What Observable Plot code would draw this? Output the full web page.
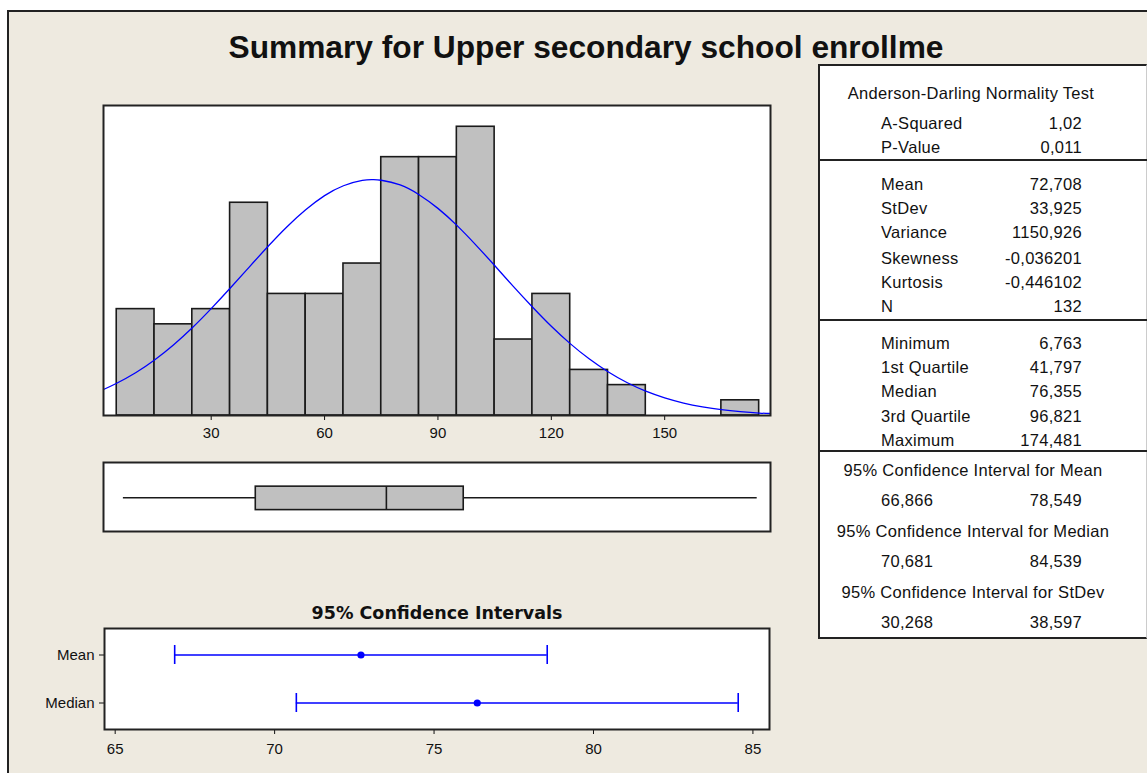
<!DOCTYPE html>
<html>
<head>
<meta charset="utf-8">
<script src="https://cdn.jsdelivr.net/npm/d3@7"></script>
<script src="https://cdn.jsdelivr.net/npm/@observablehq/plot@0.6"></script>
<style>
  html, body { margin: 0; padding: 0; }
  body { width: 1147px; height: 773px; overflow: hidden; position: relative; background: #ffffff;
         font-family: "Liberation Sans", Arial, sans-serif; color: #111; }
  #bg { position: absolute; left: 7px; top: 10px; width: 1200px; height: 800px; background: #EEEAE0;
        border-left: 2px solid #222; border-top: 2px solid #222; }
  .abs { position: absolute; white-space: nowrap; }
  #panel { position: absolute; left: 818px; top: 64px; width: 326px; height: 571px; background: #fff;
           border-left: 2px solid #222; border-top: 2px solid #222; border-bottom: 2px solid #222; border-right: 1px solid #ccc; }
  .sep { position: absolute; left: 818px; width: 330px; height: 0; border-top: 2px solid #222; }
  .pt { font-family: "Liberation Sans", Arial, sans-serif; font-size: 16.5px; letter-spacing: 0.3px; line-height: 20px; height: 20px; }
  #title { font-family: "Liberation Sans", Arial, sans-serif; font-weight: bold; font-size: 31.7px; line-height: 36px; }
  #cititle { font-family: "DejaVu Sans", sans-serif; font-weight: bold; font-size: 17.5px; line-height: 22px; }
</style>
</head>
<body>
<div id="bg"></div>
<div id="root"></div>
<script>
// ---------------- data ----------------
const chartTitle = "Summary for Upper secondary school enrollme";
const ciTitle = "95% Confidence Intervals";

// histogram bins (value ranges) and counts
const binLo    = [5, 15, 25, 35, 45, 55, 65, 75, 85, 95, 105, 115, 125, 135, 145, 155, 165];
const binHi    = [15, 25, 35, 45, 55, 65, 75, 85, 95, 105, 115, 125, 135, 145, 155, 165, 175];
const binCount = [7, 6, 7, 14, 8, 8, 10, 17, 17, 19, 5, 8, 3, 2, 0, 0, 1];
const histTicks = [30, 60, 90, 120, 150];

// fitted normal curve
const fitX = [1.5, 5, 10, 15, 20, 25, 30, 35, 40, 45, 50, 55, 60, 65, 70, 72.7, 75, 80, 85, 90, 95, 100,
              105, 110, 115, 120, 125, 130, 135, 140, 145, 150, 155, 160, 165, 170, 175, 178];
const fitY = [1.71, 2.12, 2.81, 3.65, 4.64, 5.77, 7.03, 8.37, 9.75, 11.12, 12.41, 13.54, 14.47, 15.12, 15.47, 15.52,
              15.48, 15.17, 14.53, 13.63, 12.51, 11.23, 9.87, 8.48, 7.14, 5.87, 4.73, 3.73, 2.88, 2.17, 1.60,
              1.16, 0.82, 0.57, 0.38, 0.25, 0.16, 0.13];

// boxplot summary
const boxMin = 6.763, boxQ1 = 41.797, boxMedian = 76.355, boxQ3 = 96.821, boxMax = 174.481;

// confidence intervals
const ciLabels = ["Mean", "Median"];
const ciLow    = [66.866, 70.681];
const ciMid    = [72.708, 76.355];
const ciHigh   = [78.549, 84.539];
const ciTicks  = [65, 70, 75, 80, 85];

// stats panel
const adHeader  = "Anderson-Darling Normality Test";
const adLabels  = ["A-Squared", "P-Value"];
const adValues  = ["1,02", "0,011"];
const momLabels = ["Mean", "StDev", "Variance", "Skewness", "Kurtosis", "N"];
const momValues = ["72,708", "33,925", "1150,926", "-0,036201", "-0,446102", "132"];
const qLabels   = ["Minimum", "1st Quartile", "Median", "3rd Quartile", "Maximum"];
const qValues   = ["6,763", "41,797", "76,355", "96,821", "174,481"];
const ciHeaders = ["95% Confidence Interval for Mean", "95% Confidence Interval for Median", "95% Confidence Interval for StDev"];
const ciPanelLo = ["66,866", "70,681", "30,268"];
const ciPanelHi = ["78,549", "84,539", "38,597"];

// ---------------- layout helpers ----------------
function place(node, left, top, width) {
  const d = document.createElement("div");
  d.className = "abs";
  d.style.left = left + "px"; d.style.top = top + "px";
  if (width) d.style.width = width + "px";
  d.appendChild(node);
  document.body.appendChild(d);
  return d;
}
function text(str, x, y, align, cls, lh) {
  const d = document.createElement("div");
  d.className = "abs " + cls;
  d.textContent = str;
  const w = 1000;
  d.style.top = (y - lh / 2) + "px";
  d.style.width = w + "px";
  if (align === "left") { d.style.left = x + "px"; d.style.textAlign = "left"; }
  else if (align === "right") { d.style.left = (x - w) + "px"; d.style.textAlign = "right"; }
  else { d.style.left = (x - w / 2) + "px"; d.style.textAlign = "center"; }
  document.body.appendChild(d);
  return d;
}

// title
text(chartTitle, 586, 47, "center", "", 36).id = "title";

// ---------------- histogram ----------------
const bins = binLo.map((lo, i) => ({lo, hi: binHi[i], count: binCount[i]})).filter(d => d.count > 0);
const fit = fitX.map((x, i) => ({x, y: fitY[i]}));
const xDomain = [1.5, 178];
const axisStyle = {background: "transparent", fontFamily: "'Liberation Sans', Arial, sans-serif", fontSize: "15px", color: "#111", overflow: "visible"};

const hist = Plot.plot({
  width: 671, height: 344,
  marginLeft: 2, marginRight: 2, marginTop: 2, marginBottom: 32,
  style: axisStyle,
  x: {domain: xDomain, ticks: histTicks, tickSize: 5, tickPadding: 7, label: null, tickFormat: d => String(d)},
  y: {domain: [0, 20.4], axis: null},
  marks: [
    Plot.frame({fill: "white", stroke: "none"}),
    Plot.rectY(bins, {x1: "lo", x2: "hi", y: "count", fill: "#C0C0C0", stroke: "#1a1a1a", strokeWidth: 1.6}),
    Plot.line(fit, {x: "x", y: "y", stroke: "#0000FF", strokeWidth: 1.3, curve: "natural"}),
    Plot.frame({stroke: "#222", strokeWidth: 2})
  ]
});
place(hist, 101, 103, 671);

// ---------------- boxplot ----------------
const whiskers = [{a: boxMin, b: boxQ1}, {a: boxQ3, b: boxMax}];
const boxPlot = Plot.plot({
  width: 671, height: 73,
  marginLeft: 2, marginRight: 2, marginTop: 2, marginBottom: 2,
  style: axisStyle,
  x: {domain: xDomain, axis: null},
  y: {domain: [0, 1], axis: null},
  marks: [
    Plot.frame({fill: "white", stroke: "none"}),
    Plot.ruleY(whiskers, {x1: "a", x2: "b", y: 0.49, stroke: "#1a1a1a", strokeWidth: 1.6}),
    Plot.rect([{a: boxQ1, b: boxQ3}], {x1: "a", x2: "b", y1: 0.31, y2: 0.65, fill: "#C0C0C0", stroke: "#1a1a1a", strokeWidth: 1.6}),
    Plot.ruleX([boxMedian], {y1: 0.31, y2: 0.65, stroke: "#1a1a1a", strokeWidth: 1.6}),
    Plot.frame({stroke: "#222", strokeWidth: 2})
  ]
});
place(boxPlot, 101, 460, 671);

// ---------------- confidence intervals ----------------
text(ciTitle, 437, 613, "center", "", 22).id = "cititle";
const ci = ciLabels.map((label, i) => ({label, lo: ciLow[i], mid: ciMid[i], hi: ciHigh[i]}));
const ciPlot = Plot.plot({
  width: 737, height: 133,
  marginLeft: 70, marginRight: 2, marginTop: 2, marginBottom: 30,
  style: axisStyle,
  x: {domain: [64.665, 85.52], ticks: ciTicks, tickSize: 5, tickPadding: 9, label: null, tickFormat: d => String(d)},
  y: {type: "band", domain: ciLabels, paddingInner: 0.6, paddingOuter: 0.34, tickSize: 5, tickPadding: 5, label: null},
  marks: [
    Plot.frame({fill: "white", stroke: "none"}),
    Plot.ruleY(ci, {x1: "lo", x2: "hi", y: "label", stroke: "#0000FF", strokeWidth: 1.6}),
    Plot.tickX(ci, {x: "lo", y: "label", stroke: "#0000FF", strokeWidth: 1.6}),
    Plot.tickX(ci, {x: "hi", y: "label", stroke: "#0000FF", strokeWidth: 1.6}),
    Plot.dot(ci, {x: "mid", y: "label", r: 3.6, fill: "#0000FF", stroke: "none"}),
    Plot.frame({stroke: "#222", strokeWidth: 2})
  ]
});
place(ciPlot, 34, 626, 737);

// ---------------- stats panel ----------------
const panel = document.createElement("div");
panel.id = "panel";
document.body.appendChild(panel);
[160, 320, 451].forEach(y => {
  const s = document.createElement("div");
  s.className = "sep"; s.style.top = (y - 1) + "px";
  document.body.appendChild(s);
});
const LX = 881, RX = 1082;
text(adHeader, 971, 93, "center", "pt", 20);
const adY = [123, 147];
adLabels.forEach((l, i) => { text(l, LX, adY[i], "left", "pt", 20); text(adValues[i], RX, adY[i], "right", "pt", 20); });
const momY = [184, 208, 232, 258, 282, 306];
momLabels.forEach((l, i) => { text(l, LX, momY[i], "left", "pt", 20); text(momValues[i], RX, momY[i], "right", "pt", 20); });
const qY = [343, 367, 391, 416, 440];
qLabels.forEach((l, i) => { text(l, LX, qY[i], "left", "pt", 20); text(qValues[i], RX, qY[i], "right", "pt", 20); });
const ciHY = [470, 531, 592], ciVY = [500, 561, 622];
ciHeaders.forEach((h, i) => {
  text(h, 973, ciHY[i], "center", "pt", 20);
  text(ciPanelLo[i], LX, ciVY[i], "left", "pt", 20);
  text(ciPanelHi[i], RX, ciVY[i], "right", "pt", 20);
});
</script>
</body>
</html>
